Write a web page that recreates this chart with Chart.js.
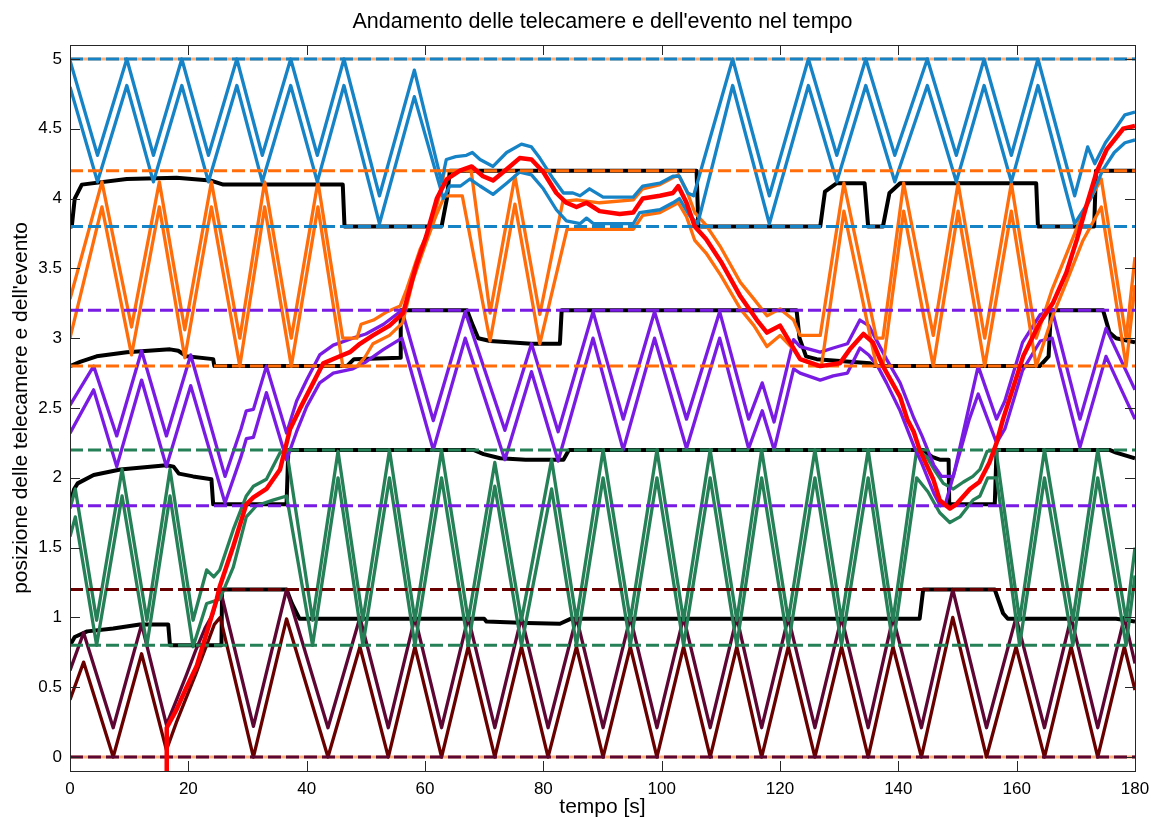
<!DOCTYPE html>
<html><head><meta charset="utf-8">
<script src="https://cdn.jsdelivr.net/npm/chart.js@4.4.1/dist/chart.umd.min.js"></script>
<style>html,body{margin:0;padding:0;background:#fff}</style>
</head><body>
<canvas id="c" width="1151" height="820"></canvas>
<script>
// Time axis ticks (s) and position ticks
const xTicks = [0,20,40,60,80,100,120,140,160,180];
const yTicks = [0,0.5,1,1.5,2,2.5,3,3.5,4,4.5,5];

// Event position over time
const eventPos = [[16.3,-0.1],[16.35,0.21],[18.0,0.34],[19.7,0.5],[21.4,0.65],[23.1,0.89],[24.8,1.13],[25.3,1.22],[27.6,1.51],[29.8,1.81],[31.0,1.86],[33.2,1.92],[35.5,2.06],[37.2,2.35],[38.8,2.49],[41.1,2.68],[42.8,2.82],[45.0,2.86],[47.3,2.9],[49.0,2.96],[51.2,3.02],[54.0,3.09],[56.3,3.18],[58.5,3.52],[60.2,3.73],[62.0,4.0],[63.7,4.14],[65.9,4.2],[67.9,4.23],[69.8,4.16],[71.5,4.13],[73.8,4.21],[76.0,4.29],[78.0,4.28],[80.0,4.19],[82.2,4.04],[83.9,3.97],[85.6,3.94],[87.3,3.97],[89.5,3.91],[92.9,3.89],[95.2,3.9],[96.8,4.0],[99.7,4.02],[101.9,4.04],[102.8,4.09],[104.2,3.97],[105.6,3.8],[107.5,3.71],[110,3.55],[113.3,3.30],[116.1,3.13],[117.8,3.04],[120.0,3.09],[121.7,2.97],[123.4,2.85],[126.8,2.8],[130.1,2.82],[131.8,2.92],[134.1,3.03],[135.7,2.97],[137.4,2.8],[140.3,2.58],[141.5,2.42],[142.6,2.33],[143.6,2.2],[145.9,1.99],[147.0,1.84],[148.7,1.78],[149.8,1.81],[152.1,1.92],[153.7,1.97],[155.4,2.11],[156.6,2.25],[157.7,2.42],[161.1,2.87],[163.9,3.11],[166.1,3.25],[168.4,3.47],[170.2,3.71],[171.8,3.95],[173.5,4.19],[175.2,4.35],[178,4.5],[180,4.52]];

// Camera 5 (blue): upper and lower edge of the field of view
const blueUpper = [[0,4.99],[4.65,4.31],[9.6,5.0],[14.1,4.31],[18.9,5.0],[23.4,4.31],[28.2,5.0],[32.5,4.31],[37.3,5.0],[41.8,4.31],[46.3,5.0],[52.3,4.02],[58.2,4.92],[62.8,4.12],[63.6,4.28],[65.2,4.3],[67.0,4.31],[68.0,4.33],[69.3,4.28],[71.5,4.23],[73.8,4.33],[76.3,4.39],[78.0,4.37],[79.4,4.29],[81.7,4.14],[83.4,4.04],[85.0,4.04],[86.2,4.02],[87.8,4.07],[90.1,4.01],[95.2,4.01],[96.8,4.09],[99.7,4.11],[101.9,4.16],[103.0,4.16],[104.4,4.04],[105.4,4.02],[112.0,5.0],[118.2,4.02],[124.8,5.0],[129.6,4.31],[134.5,5.0],[139.4,4.31],[144.9,5.0],[149.8,4.31],[154.5,5.0],[159.1,4.31],[163.6,5.0],[169.8,4.02],[172.0,4.37],[173.2,4.25],[175.0,4.4],[177.0,4.52],[178.3,4.6],[180,4.62]];
const blueLower = [[0,4.8],[4.65,4.12],[9.6,4.81],[14.1,4.12],[18.9,4.81],[23.4,4.12],[28.2,4.81],[32.5,4.12],[37.3,4.81],[41.8,4.12],[46.3,4.81],[52.3,3.82],[58.2,4.73],[63.1,4.0],[64.2,4.09],[66.0,4.09],[67.6,4.14],[69.3,4.09],[71.5,4.03],[73.8,4.11],[76.0,4.19],[78.0,4.17],[80.0,4.07],[82.2,3.92],[83.9,3.84],[86.2,3.82],[87.3,3.86],[88.5,3.82],[95.2,3.82],[96.3,3.9],[99.7,3.92],[101.9,3.97],[103.0,4.0],[104.7,3.88],[106.1,3.82],[112.0,4.81],[118.2,3.82],[124.8,4.81],[129.6,4.12],[134.5,4.81],[139.4,4.12],[144.9,4.81],[149.8,4.12],[154.5,4.81],[159.1,4.12],[163.6,4.81],[169.8,3.82],[172.5,4.0],[174.5,4.2],[176.5,4.33],[178.3,4.4],[180,4.42]];

// Camera 4 (orange)
const orangeUpper = [[0,3.28],[5.4,4.12],[10.4,3.08],[15.1,4.12],[19.4,3.06],[23.9,4.12],[28.7,3.0],[32.9,4.12],[37.4,3.0],[41.9,4.12],[46.1,3.0],[48.5,3.0],[49.2,3.1],[51.3,3.13],[53.6,3.19],[55.8,3.23],[56.9,3.35],[59.2,3.64],[60.9,3.78],[62.3,4.0],[63.3,4.2],[67.8,4.2],[71.0,3.18],[75.2,4.16],[79.4,3.17],[83.3,3.98],[85.6,3.99],[89.5,3.97],[95.2,3.99],[96.8,4.07],[99.7,4.1],[102.8,4.17],[104.2,4.06],[105.6,3.9],[107.5,3.81],[110,3.65],[113.3,3.4],[115.6,3.28],[117.8,3.16],[120.0,3.21],[122.3,3.13],[123.4,3.02],[126.8,3.02],[130.8,4.11],[136.3,3.0],[137.4,3.0],[140.9,4.11],[145.9,3.02],[150.1,4.11],[154.6,3.0],[159.1,4.11],[163.3,3.0],[166.0,3.35],[168.4,3.6],[171.2,3.9],[174.3,4.14],[178.5,3.0],[180,3.58]];
const orangeLower = [[0,3.0],[5.4,3.94],[10.4,2.88],[15.1,3.94],[19.4,2.86],[23.9,3.94],[28.7,2.8],[32.9,3.94],[37.4,2.8],[41.9,3.94],[46.1,2.8],[48.5,2.8],[49.8,2.86],[51.2,2.96],[54.0,3.02],[56.2,3.11],[58.0,3.42],[59.8,3.64],[61.8,3.87],[63.3,4.02],[66.3,4.02],[71.0,2.98],[75.2,3.96],[79.4,2.96],[84.0,3.78],[86,3.78],[95.2,3.78],[96.8,3.88],[99.7,3.9],[102.8,3.97],[104.2,3.87],[105.6,3.7],[107.5,3.61],[110,3.45],[113.3,3.21],[115.6,3.09],[117.8,2.94],[120.0,3.02],[122.3,2.92],[123.4,2.85],[126.3,2.8],[127.0,2.8],[130.8,3.91],[136.3,2.8],[137.4,2.8],[140.9,3.91],[145.9,2.8],[150.1,3.91],[154.6,2.8],[159.1,3.91],[163.3,2.8],[166.0,3.15],[168.4,3.4],[171.2,3.7],[174.3,3.94],[178.5,2.8],[180,3.38]];

// Camera 3 (purple)
const purpleUpper = [[0,2.52],[4.0,2.8],[7.9,2.3],[12.1,2.91],[16.3,2.3],[20.4,2.88],[26.2,2.01],[28.9,2.35],[29.8,2.48],[31.0,2.49],[33.2,2.8],[36.6,2.32],[38.3,2.55],[40.0,2.7],[42.2,2.88],[44.5,2.95],[47.8,3.0],[50.0,3.03],[53.0,3.1],[56.1,3.2],[61.4,2.41],[66.8,3.19],[73.5,2.34],[78.0,2.96],[82.5,2.33],[88.4,3.19],[93.5,2.42],[98.8,3.19],[104.2,2.42],[109.8,3.19],[114.7,2.42],[117.0,2.68],[119.0,2.4],[122.3,2.99],[123.4,2.94],[126.8,2.9],[129.0,2.93],[131.4,2.96],[133.5,3.13],[135.0,3.09],[136.5,2.97],[138.0,2.85],[140.3,2.68],[142.6,2.43],[144.0,2.3],[146.0,2.09],[147.3,2.01],[149.3,2.01],[153.5,2.8],[156.6,2.42],[158.0,2.55],[161.0,2.97],[164.0,3.17],[166.0,3.2],[170.7,2.42],[175.1,3.07],[180,2.63]];
const purpleLower = [[0,2.32],[4.0,2.63],[7.9,2.08],[12.1,2.7],[16.3,2.08],[20.4,2.66],[26.2,1.82],[28.9,2.15],[29.8,2.28],[31.0,2.29],[33.2,2.61],[36.6,2.13],[38.3,2.33],[40.0,2.51],[42.2,2.68],[44.5,2.75],[47.8,2.78],[50.0,2.83],[53.0,2.92],[56.1,3.0],[61.4,2.2],[66.8,3.0],[73.5,2.13],[78.0,2.76],[82.5,2.12],[88.4,3.0],[93.5,2.2],[98.8,3.0],[104.2,2.21],[109.8,3.0],[114.7,2.21],[117.0,2.48],[119.0,2.2],[122.3,2.78],[123.4,2.75],[126.8,2.7],[129.0,2.73],[131.4,2.75],[133.5,2.93],[135.0,2.88],[136.5,2.8],[138.0,2.68],[140.3,2.48],[142.6,2.23],[144.0,2.1],[146.0,1.89],[147.1,1.8],[148.0,1.82],[152.0,2.42],[153.5,2.6],[156.6,2.25],[158.0,2.35],[161.0,2.77],[164.0,2.98],[166.0,3.0],[170.7,2.22],[175.1,2.87],[180,2.42]];

// Camera 2 (green)
const greenUpper = [[0,1.78],[0.9,1.92],[4.5,0.98],[8.8,2.06],[13.0,0.98],[16.9,2.06],[20.8,0.98],[23.1,1.34],[24.3,1.29],[25.3,1.34],[27.6,1.63],[29.8,1.87],[31.0,1.94],[33.2,1.99],[35.5,2.18],[36.6,2.2],[41.0,0.98],[45.3,2.19],[49.5,0.98],[54.0,2.2],[58.3,0.98],[62.8,2.2],[67.3,0.98],[71.8,2.11],[76.3,0.98],[81.4,2.13],[85.6,0.98],[90.1,2.2],[94.7,0.98],[99.2,2.2],[103.7,0.98],[108.2,2.2],[112.7,0.98],[116.9,2.2],[121.4,0.98],[125.9,2.2],[130.4,0.98],[134.9,2.2],[139.1,0.98],[143.1,2.2],[144.8,2.15],[146.2,2.05],[147.6,1.96],[149.3,1.92],[151.0,1.97],[152.6,2.01],[153.8,2.06],[155.0,2.19],[156.5,2.2],[160.5,0.98],[164.7,2.2],[169.5,0.98],[173.7,2.2],[178.5,0.98],[180,1.5]];
const greenLower = [[0,1.58],[0.9,1.72],[4.5,0.8],[8.8,1.87],[13.0,0.8],[16.9,1.87],[20.8,0.79],[23.1,1.1],[25.3,1.13],[27.6,1.36],[29.8,1.72],[31.5,1.8],[34.3,1.84],[36.6,1.87],[41.0,0.8],[45.3,2.0],[49.5,0.8],[54.0,2.0],[58.3,0.8],[62.8,2.0],[67.3,0.8],[71.8,1.94],[76.3,0.8],[81.4,1.92],[85.6,0.8],[90.1,2.0],[94.7,0.8],[99.2,2.0],[103.7,0.8],[108.2,2.0],[112.7,0.8],[116.9,2.0],[121.4,0.8],[125.9,2.0],[130.4,0.8],[134.9,2.0],[139.1,0.8],[143.1,2.0],[145.0,1.9],[147.0,1.75],[148.7,1.68],[150.4,1.72],[152.6,1.84],[153.8,1.87],[155.1,2.0],[156.6,2.0],[160.5,0.8],[164.7,2.0],[169.5,0.8],[173.7,2.0],[178.5,0.8],[180,1.3]];

// Camera 1 (dark red)
const darkUpper = [[0,0.62],[2.3,0.89],[7.3,0.21],[12.1,0.95],[16.3,0.23],[18.0,0.41],[19.6,0.58],[21.3,0.77],[22.9,0.93],[24.1,1.02],[25.0,1.16],[25.4,1.2],[31.0,0.22],[36.6,1.2],[43.6,0.21],[49.0,1.0],[53.8,0.21],[58.3,1.0],[62.8,0.21],[67.3,1.0],[71.8,0.21],[76.3,1.0],[80.8,0.21],[85.6,1.0],[90.1,0.21],[94.7,1.0],[99.2,0.21],[103.7,1.0],[108.2,0.21],[112.7,1.0],[116.9,0.21],[121.4,1.0],[125.9,0.21],[130.4,1.0],[134.9,0.21],[139.1,1.0],[143.9,0.21],[149.2,1.2],[154.9,0.21],[159.9,1.0],[164.7,0.21],[169.2,1.0],[173.7,0.21],[178.2,1.0],[180,0.67]];
const darkLower = [[0,0.41],[2.3,0.68],[7.3,0.0],[12.1,0.74],[16.3,0.05],[18.0,0.25],[19.6,0.42],[21.3,0.6],[22.9,0.78],[24.4,0.95],[25.4,1.0],[31.0,0.0],[36.6,0.99],[43.6,0.0],[49.0,0.79],[53.8,0.0],[58.3,0.79],[62.8,0.0],[67.3,0.79],[71.8,0.0],[76.3,0.79],[80.8,0.0],[85.6,0.79],[90.1,0.0],[94.7,0.79],[99.2,0.0],[103.7,0.79],[108.2,0.0],[112.7,0.79],[116.9,0.0],[121.4,0.79],[125.9,0.0],[130.4,0.79],[134.9,0.0],[139.1,0.79],[143.9,0.0],[149.2,1.0],[154.9,0.0],[159.9,0.79],[164.7,0.0],[169.2,0.79],[173.7,0.0],[178.2,0.79],[180,0.48]];

// Hand-over thresholds between neighbouring cameras
const switch45 = [[0,3.8],[0.3,3.8],[0.8,4.0],[2.0,4.1],[9.6,4.14],[18.0,4.15],[23.7,4.13],[25.9,4.1],[46.1,4.1],[46.4,3.8],[62.8,3.8],[63.7,4.0],[64.2,4.2],[105.9,4.2],[106.2,3.8],[126.8,3.8],[127.6,4.05],[129.6,4.11],[134.3,4.11],[134.9,3.8],[137.4,3.8],[138.5,4.04],[140.3,4.11],[163.3,4.11],[163.6,3.8],[173.1,3.8],[173.4,4.2],[180,4.2]];
const switch34 = [[0,2.8],[1.7,2.83],[4.5,2.87],[9.6,2.9],[16.9,2.92],[18.3,2.91],[19.7,2.87],[24.2,2.85],[24.4,2.8],[46.8,2.8],[48.0,2.85],[55.8,2.86],[55.9,3.2],[67.1,3.2],[68.1,3.09],[69.0,3.0],[71.0,2.98],[78,2.96],[82.8,2.96],[83.1,3.2],[122.8,3.2],[123.3,3.0],[124.4,2.87],[126.2,2.85],[135.2,2.82],[136.0,2.8],[163.9,2.8],[165.4,2.87],[165.8,3.2],[174.6,3.2],[175.7,3.04],[176.8,3.0],[180,2.97]];
const switch23 = [[0,1.81],[0.7,1.92],[1.3,1.96],[4.0,2.02],[8.5,2.06],[16.3,2.09],[17.5,2.08],[18.4,2.03],[20.8,2.01],[23.9,1.99],[24.2,1.81],[36.6,1.81],[36.9,2.2],[68.2,2.2],[69.9,2.17],[72.7,2.14],[77,2.13],[83.4,2.13],[84.2,2.19],[84.4,2.2],[144.2,2.2],[145.7,2.15],[147,2.13],[148.5,2.13],[148.6,1.81],[156.3,1.81],[156.6,2.2],[175.7,2.2],[176.8,2.18],[180,2.14]];
const switch12 = [[0,0.8],[0.8,0.86],[2.9,0.9],[7.3,0.92],[11.8,0.95],[16.6,0.95],[16.9,0.8],[25.6,0.8],[25.7,1.2],[36.6,1.2],[37.5,1.1],[38.8,0.99],[70.0,0.99],[70.4,0.97],[77.2,0.96],[82.8,0.955],[84.6,0.99],[143.6,0.99],[144.2,1.2],[156.3,1.2],[157.7,1.03],[158.5,0.99],[176.8,0.99],[180,0.97]];

// Range limits of each camera and of the whole track
const blueLimits = [3.8, 5];
const orangeLimits = [2.8, 4.2];
const purpleLimits = [1.8, 3.2];
const greenLimits = [0.8, 2.2];
const darkLimits = [0, 1.2];
const trackLimits = [0, 5];

const C = {
  blue: '#1683c6', orange: '#ff6c0a', purple: '#7a1be3', green: '#268057',
  plum: '#5d0633', darkred: '#690000', red: '#ff0000', black: '#000000', peach: '#f7b07c'
};

const toXY = pts => pts.map(p => ({x: p[0], y: p[1]}));
function series(pts, color, width, order, dash) {
  return { data: toXY(pts), borderColor: color, borderWidth: width, order,
    borderDash: dash || [], pointRadius: 0, pointHoverRadius: 0, fill: false,
    tension: 0, borderCapStyle: 'butt', borderJoinStyle: 'round' };
}
function level(v, color, order, dash) {
  return series([[0, v], [180, v]], color, 3, order, dash);
}
const DASH = [13, 5];

const datasets = [
  series(eventPos, C.red, 4.5, 0),
  level(blueLimits[0], C.blue, 1, DASH), level(blueLimits[1], C.blue, 1, DASH),
  level(orangeLimits[0], C.orange, 1, DASH), level(orangeLimits[1], C.orange, 1, DASH),
  level(purpleLimits[0], C.purple, 1, DASH), level(purpleLimits[1], C.purple, 1, DASH),
  level(greenLimits[0], C.green, 1, DASH), level(greenLimits[1], C.green, 1, DASH),
  level(darkLimits[0], C.plum, 1, DASH), level(darkLimits[1], C.darkred, 1, DASH),
  series(blueUpper, C.blue, 3.3, 2), series(blueLower, C.blue, 3.3, 2),
  series(orangeUpper, C.orange, 3.3, 3), series(orangeLower, C.orange, 3.3, 3),
  series(purpleUpper, C.purple, 3.3, 4), series(purpleLower, C.purple, 3.3, 4),
  series(greenUpper, C.green, 3.3, 5), series(greenLower, C.green, 3.3, 5),
  series(darkUpper, C.plum, 3.3, 6), series(darkLower, C.darkred, 3.3, 6),
  series(switch45, C.black, 4, 7), series(switch34, C.black, 4, 7),
  series(switch23, C.black, 4, 7), series(switch12, C.black, 4, 7),
  level(trackLimits[0], C.peach, 8), level(trackLimits[1], C.peach, 8)
];

// Inward tick marks on all four sides plus the plot frame
const frameTicks = {
  id: 'frameTicks',
  afterDatasetsDraw(chart) {
    const {ctx, chartArea: a, scales: {x, y}} = chart;
    const L = 10;
    ctx.save();
    ctx.strokeStyle = '#262626';
    ctx.lineWidth = 1;
    ctx.beginPath();
    xTicks.forEach(v => {
      const px = Math.round(x.getPixelForValue(v)) + 0.5;
      ctx.moveTo(px, a.bottom); ctx.lineTo(px, a.bottom - L);
      ctx.moveTo(px, a.top); ctx.lineTo(px, a.top + L);
    });
    yTicks.forEach(v => {
      const py = Math.round(y.getPixelForValue(v)) + 0.5;
      ctx.moveTo(a.left, py); ctx.lineTo(a.left + L, py);
      ctx.moveTo(a.right, py); ctx.lineTo(a.right - L, py);
    });
    ctx.stroke();
    ctx.strokeRect(Math.round(a.left) + 0.5, Math.round(a.top) + 0.5,
      Math.round(a.right - a.left), Math.round(a.bottom - a.top));
    ctx.restore();
  }
};

const FONT = "'Liberation Sans', Arial, sans-serif";

new Chart(document.getElementById('c'), {
  type: 'line',
  data: { datasets },
  options: {
    responsive: false, animation: false, devicePixelRatio: 1,
    layout: { padding: { left: 0, right: 16, top: 0, bottom: 0 } },
    plugins: {
      legend: { display: false }, tooltip: { enabled: false },
      title: { display: true, fullSize: false,
        text: "Andamento delle telecamere e dell'evento nel tempo",
        color: '#000', font: { family: FONT, size: 21.5, weight: 'normal' },
        padding: { top: 9, bottom: 10.2 } }
    },
    scales: {
      x: {
        type: 'linear', min: 0, max: 180,
        grid: { display: false, drawTicks: false }, border: { display: false },
        afterBuildTicks: s => { s.ticks = xTicks.map(v => ({value: v})); },
        afterFit: s => { s.height = 49; s.paddingLeft = 0; s.paddingRight = 0; },
        ticks: { color: '#000', padding: 8, maxRotation: 0,
          font: { family: FONT, size: 17 }, callback: v => String(v) },
        title: { display: true, text: 'tempo [s]', color: '#000',
          font: { family: FONT, size: 21 }, padding: { top: 0, bottom: 0 } }
      },
      y: {
        type: 'linear', min: -0.1, max: 5.1,
        grid: { display: false, drawTicks: false }, border: { display: false },
        afterBuildTicks: s => { s.ticks = yTicks.map(v => ({value: v})); },
        afterFit: s => { s.width = 70; s.paddingTop = 0; s.paddingBottom = 0; },
        ticks: { color: '#000', padding: 8,
          font: { family: FONT, size: 17 }, callback: v => String(v) },
        title: { display: true, text: "posizione delle telecamere e dell'evento", color: '#000',
          font: { family: FONT, size: 21 }, padding: { top: 9, bottom: 0 } }
      }
    }
  },
  plugins: [frameTicks]
});
</script>
</body></html>
